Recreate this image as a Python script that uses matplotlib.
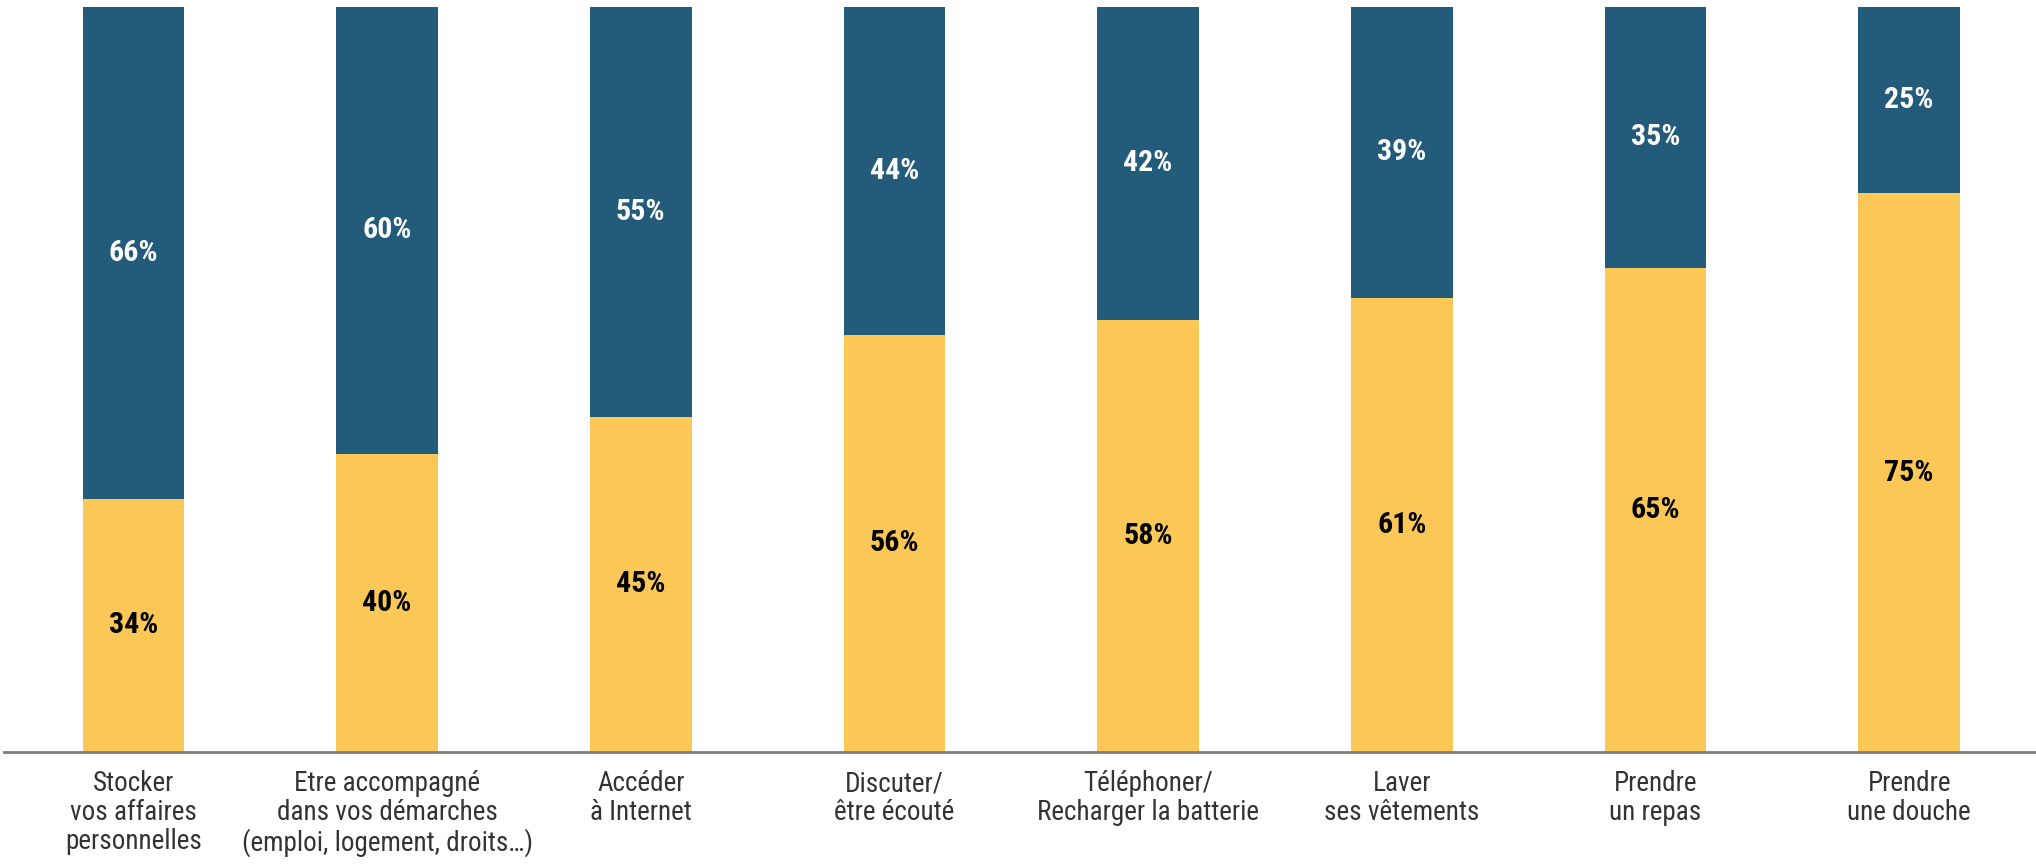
import matplotlib
matplotlib.use("Agg")
import matplotlib.pyplot as plt

# Données
categories = [
    "Stocker\nvos affaires\npersonnelles",
    "Etre accompagné\ndans vos démarches\n(emploi, logement, droits…)",
    "Accéder\nà Internet",
    "Discuter/\nêtre écouté",
    "Téléphoner/\nRecharger la batterie",
    "Laver\nses vêtements",
    "Prendre\nun repas",
    "Prendre\nune douche",
]
yellow_vals = [34, 40, 45, 56, 58, 61, 65, 75]
blue_vals = [66, 60, 55, 44, 42, 39, 35, 25]

YELLOW = "#FBC858"
BLUE = "#235B7B"

plt.rcParams["font.family"] = ["Roboto Condensed", "DejaVu Sans"]

fig = plt.figure(figsize=(20.36, 8.65), dpi=100)
ax = fig.add_axes([0.002, 1 - 752 / 865, 0.998, (752 - 7) / 865])

x = list(range(len(categories)))
ax.bar(x, yellow_vals, width=0.4, color=YELLOW)
ax.bar(x, blue_vals, width=0.4, bottom=yellow_vals, color=BLUE)

for xi, yv, bv in zip(x, yellow_vals, blue_vals):
    ax.text(xi, yv / 2, f"{yv}%", ha="center", va="center",
            fontsize=21.5, fontweight="bold", color="black")
    ax.text(xi, yv + bv / 2, f"{bv}%", ha="center", va="center",
            fontsize=21.5, fontweight="bold", color="white")

ax.set_xlim(-0.51, 7.5)
ax.set_ylim(0, 100)
ax.set_xticks(x)
ax.set_xticklabels(categories, fontsize=19.5, color="#333333", linespacing=1.1)
ax.tick_params(axis="x", length=0, pad=13)
ax.set_yticks([])
for side in ["top", "right", "left"]:
    ax.spines[side].set_visible(False)
ax.spines["bottom"].set_color("#7f7f7f")
ax.spines["bottom"].set_linewidth(2)

fig.savefig("out.png", dpi=100)
